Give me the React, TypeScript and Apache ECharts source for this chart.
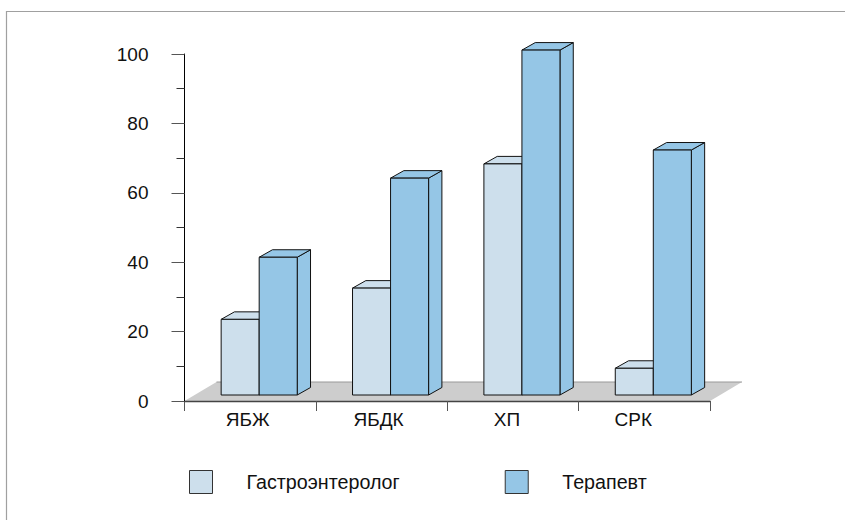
import React, { useEffect, useRef } from "react";
import * as echarts from "echarts";

const categories = ["ЯБЖ", "ЯБДК", "ХП", "СРК"];
const gastro = [21.8, 30.8, 66.6, 7.7];
const therapist = [39.7, 62.5, 99.4, 70.6];
const seriesNames = ["Гастроэнтеролог", "Терапевт"];
const labelShift = [5, 6, 12, 22];
const FONT = '"Liberation Sans", Arial, sans-serif';
const FS = 19;

function barSeries(name: string, values: number[], color: string, side: number) {
  return {
    type: "custom",
    name,
    z: 3,
    silent: true,
    itemStyle: { color, borderColor: "#333", borderWidth: 1 },
    data: values.map((v, i) => [i, v]),
    encode: { x: 0, y: 1 },
    renderItem: (params: any, api: any) => {
      const i = api.value(0);
      const base = api.coord([i, 0]);
      const top = api.coord([i, api.value(1)]);
      const band = api.size([1, 0])[0];
      const w = band * 0.2895;
      const x0 = base[0] + band * (0.0685 - 0.2895) + side * w;
      const x1 = x0 + w;
      const yB = base[1] - 6;
      const yT = top[1] - 6;
      const dx = 13.3;
      const dy = -7.5;
      const style = { fill: color, stroke: "#111", lineWidth: 1, lineJoin: "miter" };
      return {
        type: "group",
        children: [
          { type: "polygon", shape: { points: [[x1, yT], [x1 + dx, yT + dy], [x1 + dx, yB + dy], [x1, yB]] }, style },
          { type: "polygon", shape: { points: [[x0, yT], [x0 + dx, yT + dy], [x1 + dx, yT + dy], [x1, yT]] }, style },
          { type: "rect", shape: { x: x0, y: yT, width: w, height: yB - yT }, style },
        ],
      };
    },
  };
}

export default function App() {
  const ref = useRef<HTMLDivElement>(null);
  useEffect(() => {
    const chart = echarts.init(ref.current!, null, { renderer: "svg" });
    const rich: Record<string, any> = {};
    labelShift.forEach((s, i) => {
      rich["c" + i] = { fontFamily: FONT, fontSize: FS, color: "#111", padding: [0, s, 0, 0] };
    });
    chart.setOption({
      animation: false,
      backgroundColor: "#fff",
      textStyle: { fontFamily: FONT },
      graphic: [
        {
          type: "polyline",
          z: 0,
          shape: { points: [[6.5, 525], [6.5, 11.5], [850, 11.5]] },
          style: { fill: "none", stroke: "#a0a0a0", lineWidth: 1.2 },
        },
      ],
      legend: {
        left: 189,
        top: 470,
        padding: 0,
        itemWidth: 23,
        itemHeight: 23,
        itemGap: 105,
        icon: "rect",
        selectedMode: false,
        data: seriesNames,
        itemStyle: { borderColor: "#333", borderWidth: 1 },
        textStyle: { fontFamily: FONT, fontSize: 19.7, color: "#111", padding: [2, 0, 0, 29] },
      },
      grid: { left: 184.5, right: 135, top: 54, bottom: 119 },
      xAxis: {
        type: "category",
        data: categories,
        z: 5,
        axisLine: { lineStyle: { color: "#444", width: 1.3 } },
        axisTick: { show: true, alignWithLabel: false, length: 10, lineStyle: { color: "#555", width: 1 } },
        axisLabel: {
          margin: 9,
          formatter: (v: string, i: number) => `{c${i}|${v}}`,
          rich,
        },
      },
      yAxis: {
        type: "value",
        min: 0,
        max: 100,
        interval: 20,
        z: 6,
        axisLine: { show: true, onZero: false, lineStyle: { color: "#000", width: 1 } },
        axisTick: { show: true, length: 13, lineStyle: { color: "#555", width: 1 } },
        minorTick: { show: true, splitNumber: 2, length: 8, lineStyle: { color: "#333", width: 1 } },
        splitLine: { show: false },
        axisLabel: { margin: 36, fontFamily: FONT, fontSize: FS, color: "#111" },
      },
      series: [
        {
          type: "custom",
          name: "floor",
          z: 1,
          silent: true,
          data: [[0, 0]],
          encode: { x: 0, y: 1 },
          renderItem: (params: any, api: any) => {
            const c = params.coordSys;
            const yB = c.y + c.height;
            const dx = 32;
            const dy = -19;
            return {
              type: "group",
              children: [
                {
                  type: "polygon",
                  shape: { points: [[c.x, yB], [c.x + dx, yB + dy], [c.x + c.width + dx, yB + dy], [c.x + c.width, yB]] },
                  style: { fill: "#cdcdcd" },
                },
                {
                  type: "line",
                  shape: { x1: c.x + dx, y1: yB + dy, x2: c.x + c.width + dx, y2: yB + dy },
                  style: { stroke: "#999", lineWidth: 1 },
                },
              ],
            };
          },
        },
        barSeries(seriesNames[0], gastro, "#cddfec", 0),
        barSeries(seriesNames[1], therapist, "#95c6e6", 1),
      ],
    });
    return () => chart.dispose();
  }, []);
  return <div ref={ref} style={{ position: "fixed", left: 0, top: 0, width: 845, height: 520 }} />;
}
